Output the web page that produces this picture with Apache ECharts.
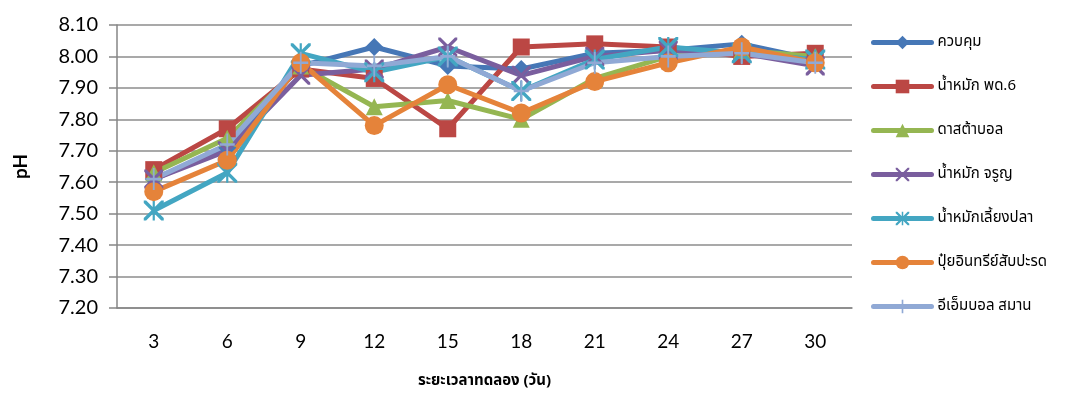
<!DOCTYPE html>
<html>
<head>
<meta charset="utf-8">
<script src="https://cdn.jsdelivr.net/npm/echarts@6/dist/echarts.min.js"></script>
<style>
  html, body { margin: 0; padding: 0; background: #fff; }
  #chart { width: 1066px; height: 394px; }
</style>
</head>
<body>
<div id="chart"></div>
<script>
// Days of the trial (x axis categories)
const days = ['3', '6', '9', '12', '15', '18', '21', '24', '27', '30'];

// pH readings per treatment
const control  = [7.61, 7.71, 7.97, 8.03, 7.97, 7.96, 8.01, 8.02, 8.04, 7.99];
const ptd6     = [7.64, 7.77, 7.96, 7.93, 7.77, 8.03, 8.04, 8.03, 8.00, 8.01];
const dasta    = [7.63, 7.74, 7.97, 7.84, 7.86, 7.80, 7.93, 8.00, 8.02, 8.00];
const charoon  = [7.61, 7.70, 7.94, 7.96, 8.03, 7.94, 8.00, 8.02, 8.01, 7.97];
const fishFerm = [7.51, 7.63, 8.01, 7.95, 8.00, 7.89, 7.99, 8.03, 8.01, 7.99];
const organic  = [7.57, 7.67, 7.98, 7.78, 7.91, 7.82, 7.92, 7.98, 8.03, 7.98];
const emBall   = [7.61, 7.72, 7.98, 7.97, 8.00, 7.89, 7.98, 8.00, 8.01, 7.98];

const seriesNames = [
  'ควบคุม', 'น้ำหมัก พด.6', 'ดาสต้าบอล', 'น้ำหมัก จรูญ',
  'น้ำหมักเลี้ยงปลา', 'ปุ๋ยอินทรีย์สับปะรด', 'อีเอ็มบอล สมาน'
];
const seriesData = [control, ptd6, dasta, charoon, fishFerm, organic, emBall];

// y axis range
const yMin = 7.2, yMax = 8.1, yStep = 0.1;

// Marker shapes
const crossPath = 'path://M0,0 L1.2,0 L10,8.8 L10,10 L8.8,10 L0,1.2Z M10,0 L10,1.2 L1.2,10 L0,10 L0,8.8 L8.8,0Z';
const starPath = crossPath + ' M4.45,0 L5.55,0 L5.55,10 L4.45,10Z';
const plusPath = 'path://M4.4,0 L5.6,0 L5.6,4.4 L10,4.4 L10,5.6 L5.6,5.6 L5.6,10 L4.4,10 L4.4,5.6 L0,5.6 L0,4.4 L4.4,4.4Z';

const colors = ['#4677B6', '#BB4744', '#95B652', '#7A5E9E', '#43A6C2', '#E5833A', '#90A9D5'];
const symbols = ['diamond', 'rect', 'triangle', crossPath, starPath, 'circle', plusPath];
const symbolSizes = [18, 17, 17, 19, 20, 19, [15, 22]];

const thaiFont = "'Noto Sans Thai', 'Noto Sans', 'DejaVu Sans', sans-serif";
const numFont = "Lato, 'Open Sans', sans-serif";

const chart = echarts.init(document.getElementById('chart'));

chart.setOption({
  animation: false,
  color: colors,
  grid: { left: 117, top: 25, right: 214, bottom: 85.5 },
  legend: {
    orient: 'vertical',
    left: 866,
    top: 30,
    itemWidth: 58,
    itemHeight: 17,
    itemGap: 29,
    lineStyle: { width: 5, cap: 'round' },
    textStyle: { fontFamily: thaiFont, fontSize: 15, color: '#000', padding: [0, 0, 0, 1] },
    data: seriesNames
  },
  xAxis: {
    type: 'category',
    data: days,
    boundaryGap: true,
    name: 'ระยะเวลาทดลอง (วัน)',
    nameLocation: 'middle',
    nameGap: 66,
    nameTextStyle: { fontFamily: thaiFont, fontSize: 15, fontWeight: 'bold', color: '#000' },
    axisLine: { lineStyle: { color: '#868686', width: 1.5 } },
    axisTick: { show: false },
    axisLabel: { margin: 24, fontFamily: numFont, fontSize: 19, color: '#000' }
  },
  yAxis: {
    type: 'value',
    min: yMin,
    max: yMax,
    interval: yStep,
    name: 'pH',
    nameLocation: 'middle',
    nameGap: 87,
    nameRotate: 90,
    nameTextStyle: { fontFamily: numFont, fontSize: 19, fontWeight: 'bold', color: '#000' },
    axisLine: { show: true, lineStyle: { color: '#868686', width: 1.5 } },
    axisTick: { show: true, inside: false, length: 8, lineStyle: { color: '#868686', width: 1.5 } },
    axisLabel: {
      margin: 19,
      fontFamily: numFont, fontSize: 20, color: '#000',
      formatter: v => v.toFixed(2)
    },
    splitLine: { lineStyle: { color: '#8C8C8C', width: 1.5 } }
  },
  series: seriesNames.map((name, i) => ({
    name,
    type: 'line',
    data: seriesData[i],
    symbol: symbols[i],
    symbolSize: symbolSizes[i],
    showAllSymbol: true,
    lineStyle: { width: 5, color: colors[i] },
    itemStyle: { color: colors[i] },
    emphasis: { disabled: true }
  }))
});
</script>
</body>
</html>
